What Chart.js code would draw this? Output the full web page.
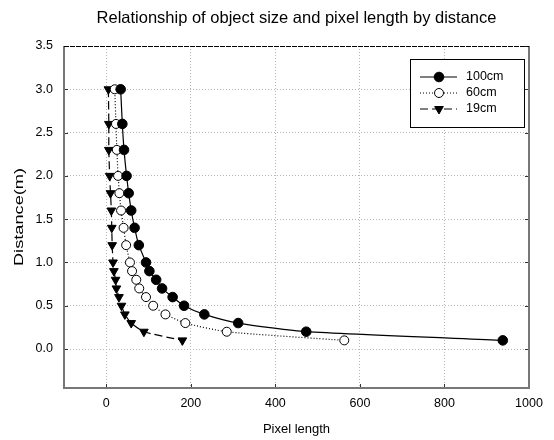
<!DOCTYPE html>
<html>
<head>
<meta charset="utf-8">
<script src="https://cdn.jsdelivr.net/npm/chart.js@4/dist/chart.umd.min.js"></script>
<style>
  html, body { margin: 0; padding: 0; background: #fff; }
</style>
</head>
<body>
<canvas id="chart" width="554" height="440"></canvas>
<script>
// --- Data ---
const distances = [3.0, 2.6, 2.3, 2.0, 1.8, 1.6, 1.4, 1.2, 1.0, 0.9, 0.8, 0.7, 0.6, 0.5, 0.4, 0.3, 0.2, 0.1];
const pixels100cm = [34, 38, 42, 48, 53, 59, 67, 77, 94, 102, 118, 132, 157, 184, 232, 312, 473, 938];
const pixels60cm = [20, 23, 25, 28, 31, 35, 41, 47, 56, 61, 71, 78, 94, 111, 140, 187, 285, 563];
const pixels19cm = [5, 6, 6, 8, 10, 12, 13, 14, 16, 18, 22, 24, 30, 36, 44, 59, 89, 180];
const seriesNames = ['100cm', '60cm', '19cm'];

const chartTitle = 'Relationship of object size and pixel length by distance';
const xTitle = 'Pixel length';
const yTitle = 'Distance(m)';

const FONT = '"Liberation Sans", Arial, sans-serif';

function toPoints(xs) {
    return xs.map((x, i) => ({ x: x, y: distances[i] }));
}

// --- Frame, inner ticks, titles and legend ---
const decorPlugin = {
    id: 'decor',
    afterDraw(chart) {
        const ctx = chart.ctx;
        const area = chart.chartArea;
        const xs = chart.scales.x;
        const ys = chart.scales.y;
        ctx.save();

        // inside tick marks
        ctx.strokeStyle = '#333';
        ctx.lineWidth = 1;
        ctx.beginPath();
        xs.ticks.forEach(t => {
            const px = Math.round(xs.getPixelForValue(t.value)) + 0.5;
            ctx.moveTo(px, area.bottom);
            ctx.lineTo(px, area.bottom - 4);
        });
        ys.ticks.forEach(t => {
            const py = Math.round(ys.getPixelForValue(t.value)) + 0.5;
            ctx.moveTo(area.left, py);
            ctx.lineTo(area.left + 4, py);
            ctx.moveTo(area.right, py);
            ctx.lineTo(area.right - 4, py);
        });
        ctx.stroke();

        // frame
        ctx.strokeStyle = '#777';
        ctx.lineWidth = 2;
        ctx.beginPath();
        ctx.moveTo(area.left, area.top);
        ctx.lineTo(area.left, area.bottom);
        ctx.lineTo(area.right, area.bottom);
        ctx.lineTo(area.right, area.top);
        ctx.stroke();
        ctx.strokeStyle = '#000';
        ctx.lineWidth = 1;
        ctx.setLineDash([5, 1]);
        ctx.beginPath();
        ctx.moveTo(area.left, area.top + 0.5);
        ctx.lineTo(area.right, area.top + 0.5);
        ctx.stroke();
        ctx.setLineDash([]);

        // titles
        ctx.fillStyle = '#000';
        ctx.textAlign = 'center';
        ctx.textBaseline = 'middle';
        ctx.font = '16.5px ' + FONT;
        ctx.fillText(chartTitle, (area.left + area.right) / 2, 18);
        ctx.font = '13px ' + FONT;
        ctx.fillText(xTitle, (area.left + area.right) / 2, 429);
        ctx.save();
        ctx.translate(19, (area.top + area.bottom) / 2);
        ctx.rotate(-Math.PI / 2);
        ctx.scale(1.4, 1);
        ctx.fillText(yTitle, 0, 0);
        ctx.restore();

        // legend
        const bx = 410, by = 59, bw = 114, bh = 68;
        ctx.fillStyle = '#fff';
        ctx.fillRect(bx, by, bw, bh);
        ctx.strokeStyle = '#000';
        ctx.lineWidth = 1;
        ctx.strokeRect(bx + 0.5, by + 0.5, bw, bh);
        chart.data.datasets.forEach((ds, i) => {
            const y = 77 + 16 * i;
            ctx.strokeStyle = ds.borderColor;
            ctx.lineWidth = ds.borderWidth;
            ctx.setLineDash(ds.borderDash || []);
            ctx.beginPath();
            ctx.moveTo(420, y);
            ctx.lineTo(457, y);
            ctx.stroke();
            ctx.setLineDash([]);
            const mx = 439;
            ctx.fillStyle = ds.pointBackgroundColor;
            ctx.strokeStyle = ds.pointBorderColor;
            ctx.lineWidth = 1;
            ctx.beginPath();
            if (ds.pointStyle === 'triangle') {
                const r = ds.pointRadius;
                ctx.moveTo(mx, y + r);
                ctx.lineTo(mx - r * 0.866, y - r / 2);
                ctx.lineTo(mx + r * 0.866, y - r / 2);
                ctx.closePath();
            } else {
                ctx.arc(mx, y, ds.pointRadius, 0, Math.PI * 2);
            }
            ctx.fill();
            ctx.stroke();
            ctx.fillStyle = '#000';
            ctx.textAlign = 'left';
            ctx.textBaseline = 'middle';
            ctx.font = '12.5px ' + FONT;
            ctx.fillText(ds.label, 466, y);
        });

        ctx.restore();
    }
};

const gridOpts = {
    color: '#b5b5b5',
    lineWidth: 1,
    drawTicks: false
};

new Chart(document.getElementById('chart'), {
    type: 'line',
    data: {
        datasets: [
            {
                label: seriesNames[0],
                data: toPoints(pixels100cm),
                borderColor: '#000',
                borderWidth: 1.2,
                pointStyle: 'circle',
                pointRadius: 4.8,
                pointBackgroundColor: '#000',
                pointBorderColor: '#000',
                pointBorderWidth: 1,
                tension: 0.2
            },
            {
                label: seriesNames[1],
                data: toPoints(pixels60cm),
                borderColor: '#000',
                borderWidth: 1.2,
                borderDash: [1, 2],
                pointStyle: 'circle',
                pointRadius: 4.5,
                pointBackgroundColor: '#fff',
                pointBorderColor: '#000',
                pointBorderWidth: 1,
                tension: 0.2
            },
            {
                label: seriesNames[2],
                data: toPoints(pixels19cm),
                borderColor: '#000',
                borderWidth: 1.2,
                borderDash: [8, 4],
                pointStyle: 'triangle',
                pointRotation: 180,
                pointRadius: 5,
                pointBackgroundColor: '#000',
                pointBorderColor: '#000',
                pointBorderWidth: 1,
                tension: 0.2
            }
        ]
    },
    options: {
        responsive: false,
        animation: false,
        devicePixelRatio: 1,
        layout: { padding: { top: 46, right: 25, left: 0, bottom: 0 } },
        plugins: {
            legend: { display: false },
            title: { display: false },
            tooltip: { enabled: false }
        },
        scales: {
            x: {
                type: 'linear',
                min: -100,
                max: 1000,
                border: { display: false, dash: [1, 2] },
                grid: gridOpts,
                ticks: {
                    stepSize: 200,
                    includeBounds: false,
                    padding: 8,
                    color: '#000',
                    font: { family: FONT, size: 12.5 },
                    maxRotation: 0,
                    callback: v => String(v)
                },
                afterFit(scale) { scale.height = 52; }
            },
            y: {
                type: 'linear',
                min: -0.45,
                max: 3.5,
                border: { display: false, dash: [1, 2] },
                grid: gridOpts,
                ticks: {
                    stepSize: 0.5,
                    includeBounds: false,
                    padding: 11,
                    color: '#000',
                    font: { family: FONT, size: 12.5 },
                    callback: v => v.toFixed(1)
                },
                afterFit(scale) { scale.width = 64; }
            }
        }
    },
    plugins: [decorPlugin]
});
</script>
</body>
</html>
